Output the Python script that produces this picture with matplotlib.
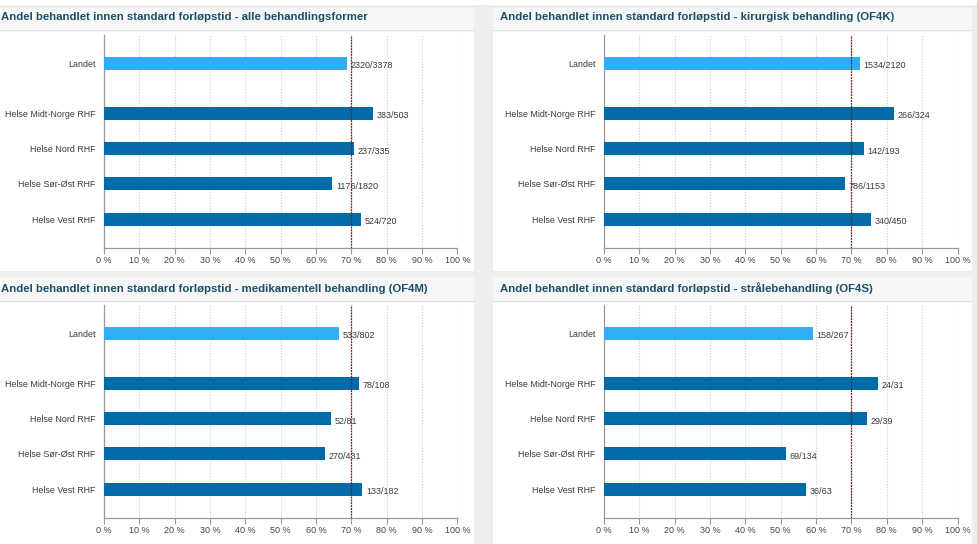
import matplotlib
matplotlib.use("Agg")
import matplotlib.pyplot as plt
from matplotlib.patches import Rectangle
import numpy as np

plt.rcParams['font.family'] = ['Liberation Sans', 'DejaVu Sans']

regions = ["Landet", "Helse Midt-Norge RHF", "Helse Nord RHF",
           "Helse Sør-Øst RHF", "Helse Vest RHF"]
xticks = [0, 10, 20, 30, 40, 50, 60, 70, 80, 90, 100]
target = 70

titles = [
    "Andel behandlet innen standard forløpstid - alle behandlingsformer",
    "Andel behandlet innen standard forløpstid - kirurgisk behandling (OF4K)",
    "Andel behandlet innen standard forløpstid - medikamentell behandling (OF4M)",
    "Andel behandlet innen standard forløpstid - strålebehandling (OF4S)",
]
num_alle = [2320, 383, 237, 1176, 524]
den_alle = [3378, 503, 335, 1820, 720]
num_kir = [1534, 266, 142, 786, 340]
den_kir = [2120, 324, 193, 1153, 450]
num_med = [533, 78, 52, 270, 133]
den_med = [802, 108, 81, 431, 182]
num_str = [158, 24, 29, 69, 36]
den_str = [267, 31, 39, 134, 63]
panels = [(num_alle, den_alle), (num_kir, den_kir),
          (num_med, den_med), (num_str, den_str)]

W, H = 978, 544
fig = plt.figure(figsize=(W / 100, H / 100), dpi=100, facecolor="white")


def frect(x, y, w, h, color, z=0):
    # rectangle in pixel coords (y from top)
    fig.add_artist(Rectangle((x / W, 1 - (y + h) / H), w / W, h / H,
                             transform=fig.transFigure, facecolor=color,
                             edgecolor="none", zorder=z))


def fline(x0, x1, y, color):
    fig.add_artist(plt.Line2D([x0 / W, x1 / W], [1 - y / H, 1 - y / H],
                              transform=fig.transFigure, color=color, lw=1))


# gutters
frect(474, 0, 19, H, "#eeeeee")
frect(972, 0, 6, H, "#eeeeee")
frect(0, 271, W, 6, "#eeeeee")
frect(0, 0, W, 5, "#ffffff")
fline(0, 474, 5.5, "#e2e2e2")
fline(493, 972, 5.5, "#e2e2e2")

# title bands
band_y = [6, 277]
for by in band_y:
    frect(0, by, 474, 23, "#f6f6f6")
    frect(493, by, 479, 23, "#f6f6f6")
    fline(0, 474, by + 23.5, "#e0e0e0")
    fline(493, 972, by + 23.5, "#e0e0e0")

ax_x = [104, 604]
ax_w = 353.5
ax_top = [35, 305]
ax_h = 213
title_x = [1, 500]
title_y = [17.5, 288.5]

ypos = np.array([0, 1.42, 2.42, 3.42, 4.42])
colors = ["#33adf7"] + ["#006ba8"] * 4

for i, (num, den) in enumerate(panels):
    r, c = divmod(i, 2)
    ax = fig.add_axes([ax_x[c] / W, 1 - (ax_top[r] + ax_h) / H,
                       ax_w / W, ax_h / H])
    pct = np.array(num) / np.array(den) * 100
    ax.barh(ypos, pct, height=0.37, color=colors, zorder=3)
    for y, p, n, d in zip(ypos, pct, num, den):
        ax.text(p + 1.0, y + 0.07, f"{n}/{d}", va="center", ha="left",
                fontsize=6.5, color="#3a3a3a", zorder=4)
    ax.axvline(target, color="#7a1a1a", lw=0.9, ls=(0, (1.5, 0.8)), zorder=5)
    ax.set_xlim(0, 100)
    ax.set_ylim(5.24, -0.8)
    ax.set_xticks(xticks)
    ax.set_xticklabels([f"{t} %" for t in xticks])
    ax.set_yticks(ypos)
    ax.set_yticklabels(regions)
    ax.tick_params(axis="y", length=0, pad=6, labelsize=6.4,
                   labelcolor="#3a3a3a")
    ax.tick_params(axis="x", length=4, width=0.8, color="#999999", pad=1.5,
                   labelsize=6.5, labelcolor="#444444")
    ax.grid(axis="x", color="#cccccc", ls=(0, (1, 1.5)), lw=0.8, zorder=0)
    for s in ["top", "right"]:
        ax.spines[s].set_visible(False)
    for s in ["left", "bottom"]:
        ax.spines[s].set_color("#999999")
        ax.spines[s].set_linewidth(0.9)
    ax.set_facecolor("white")
    fig.text(title_x[c] / W, 1 - title_y[r] / H, titles[i], fontsize=8.2,
             fontweight="bold", color="#1a4e6a", va="center", ha="left")

fig.savefig("out.png", dpi=100, facecolor="white")
